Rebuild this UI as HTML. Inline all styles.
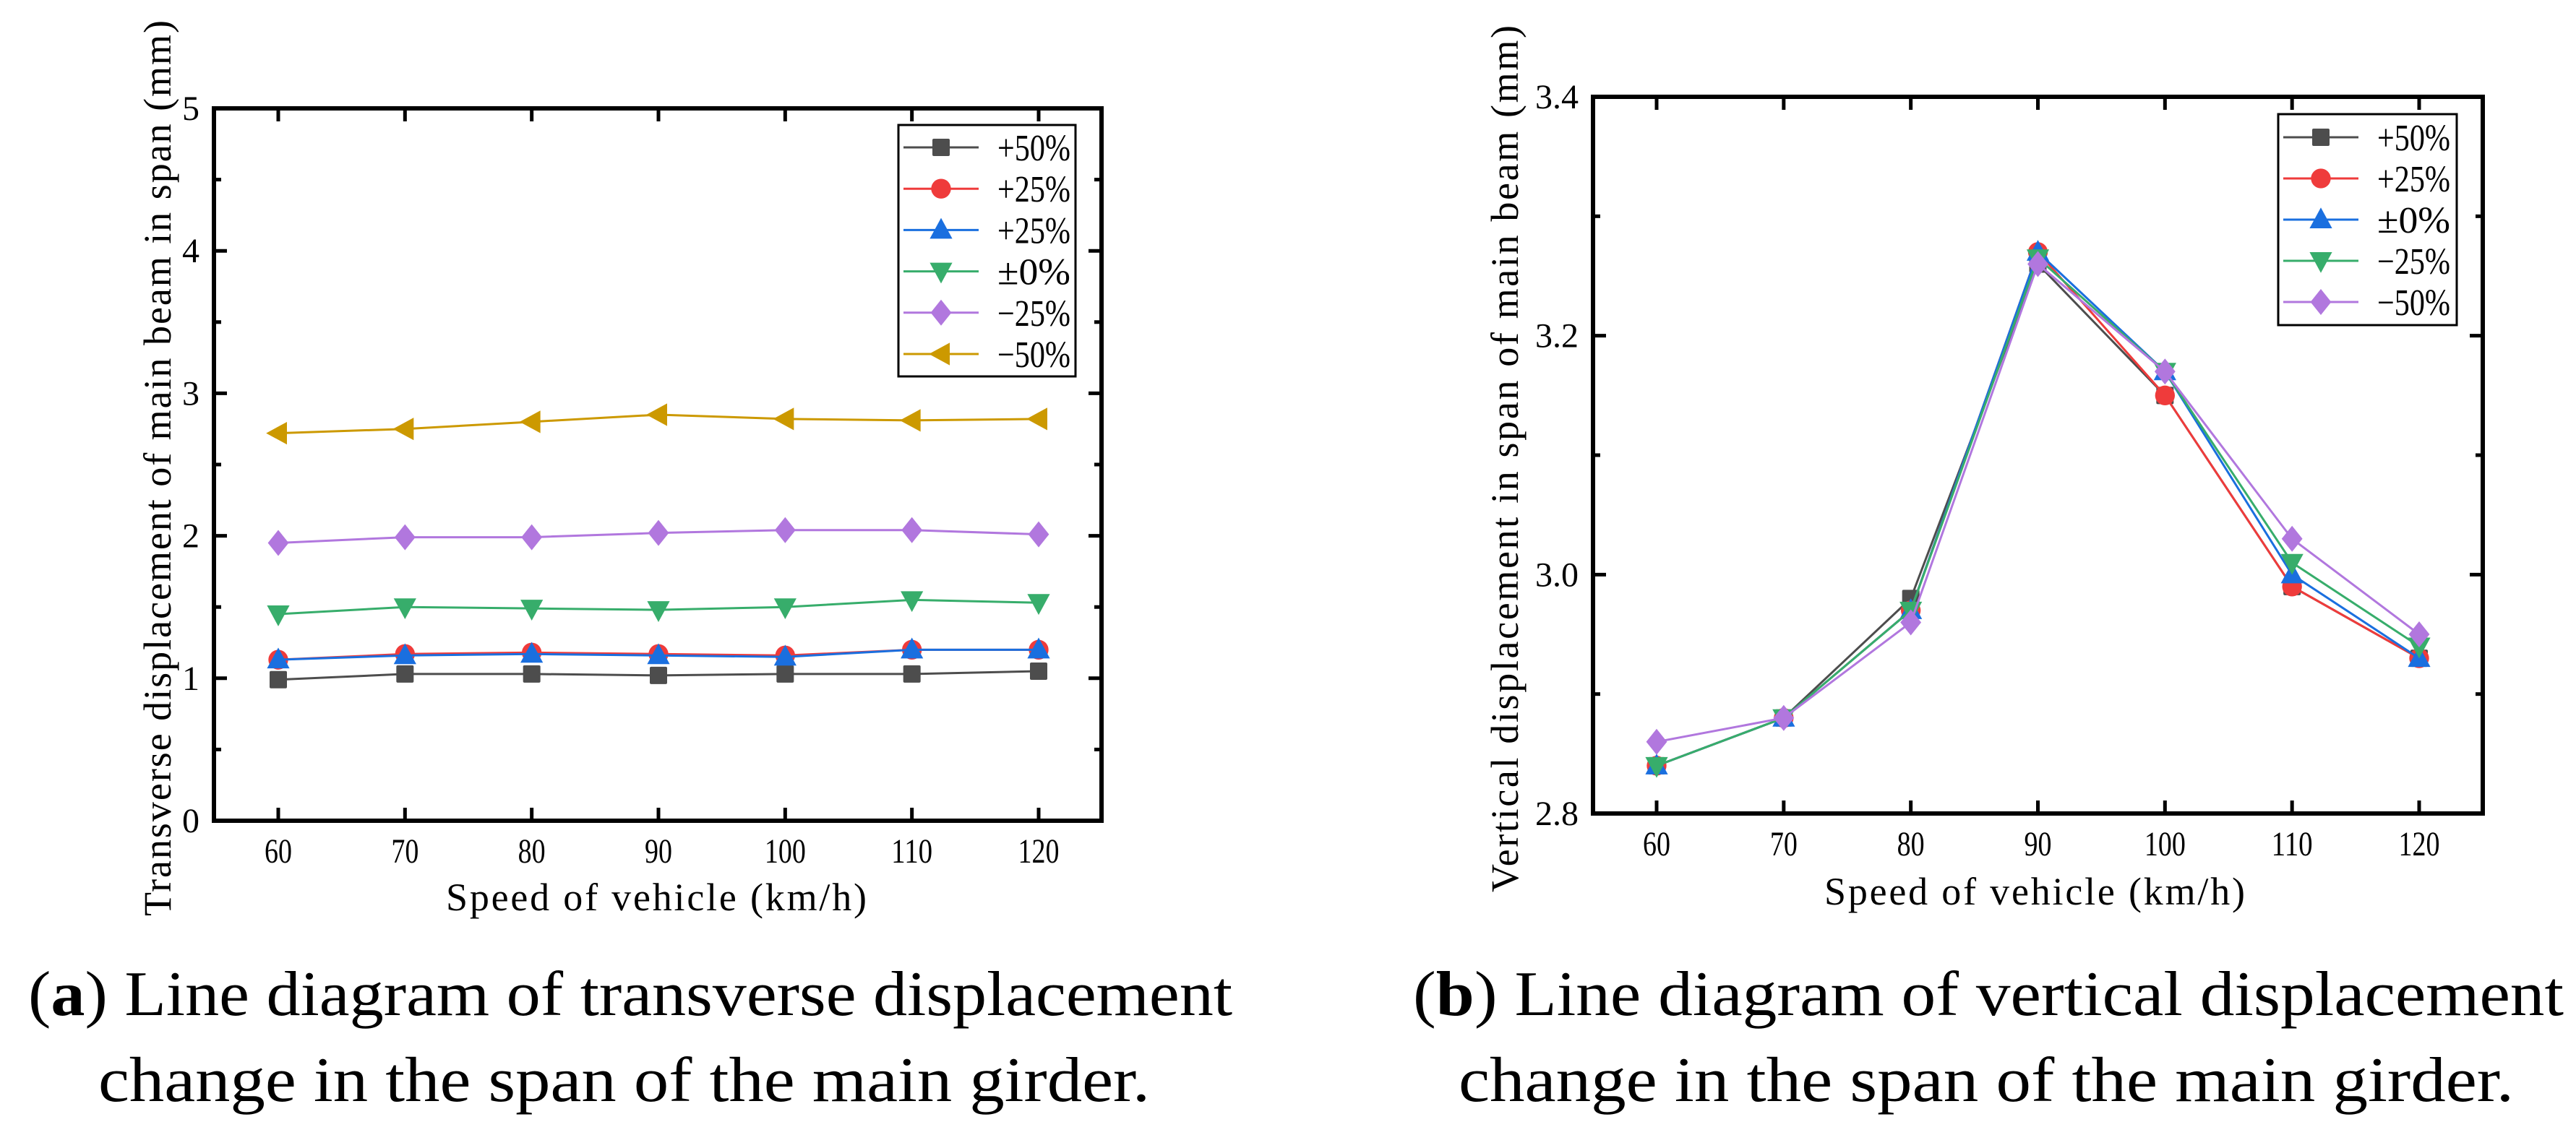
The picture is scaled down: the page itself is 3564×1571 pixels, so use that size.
<!DOCTYPE html>
<html><head><meta charset="utf-8"><style>
html,body{margin:0;padding:0;background:#fff;}
svg{display:block;}
text{font-family:"Liberation Serif",serif;fill:#000;}
</style></head><body>
<svg id="fig" width="3564" height="1571" viewBox="0 0 3564 1571" xmlns="http://www.w3.org/2000/svg">
<g id="chartA"></g>
<g id="chartB"></g>
<text x="39" y="1405" font-size="88" textLength="1666" lengthAdjust="spacingAndGlyphs">(<tspan font-weight="bold">a</tspan>) Line diagram of transverse displacement</text>
<text x="136" y="1524" font-size="88" textLength="1455" lengthAdjust="spacingAndGlyphs">change in the span of the main girder.</text>
<text x="1955" y="1405" font-size="88" textLength="1592" lengthAdjust="spacingAndGlyphs">(<tspan font-weight="bold">b</tspan>) Line diagram of vertical displacement</text>
<text x="2018" y="1524" font-size="88" textLength="1460" lengthAdjust="spacingAndGlyphs">change in the span of the main girder.</text>
</svg>
<script>
const speeds = [60, 70, 80, 90, 100, 110, 120];
// Chart A series
const aLabels = ["+50%", "+25%", "+25%", "±0%", "−25%", "−50%"];
const aP50 = [0.99, 1.03, 1.03, 1.02, 1.03, 1.03, 1.05];
const aP25r = [1.13, 1.17, 1.18, 1.17, 1.16, 1.20, 1.20];
const aP25b = [1.13, 1.16, 1.17, 1.16, 1.15, 1.20, 1.20];
const aZero = [1.45, 1.50, 1.49, 1.48, 1.50, 1.55, 1.53];
const aM25 = [1.95, 1.99, 1.99, 2.02, 2.04, 2.04, 2.01];
const aM50 = [2.72, 2.75, 2.80, 2.85, 2.82, 2.81, 2.82];
const aYTicks = [0, 1, 2, 3, 4, 5];
const aYMinor = [0.5, 1.5, 2.5, 3.5, 4.5];
// Chart B series
const bLabels = ["+50%", "+25%", "±0%", "−25%", "−50%"];
const bP50 = [2.84, 2.88, 2.98, 3.26, 3.15, 2.99, 2.93];
const bP25 = [2.84, 2.88, 2.97, 3.27, 3.15, 2.99, 2.93];
const bZero = [2.84, 2.88, 2.97, 3.27, 3.17, 3.00, 2.93];
const bM25 = [2.84, 2.88, 2.97, 3.265, 3.17, 3.01, 2.94];
const bM50 = [2.86, 2.88, 2.96, 3.26, 3.17, 3.03, 2.95];
const bYTicks = [2.8, 3.0, 3.2, 3.4];
const bYMinor = [2.9, 3.1, 3.3];

const NS = "http://www.w3.org/2000/svg";
function mk(parent, tag, attrs) {
  const e = document.createElementNS(NS, tag);
  for (const k in attrs) e.setAttribute(k, attrs[k]);
  parent.appendChild(e);
  return e;
}
function marker(g, type, cx, cy, color, s) {
  let e;
  if (type === "square") e = mk(g, "rect", {x: cx - s/2, y: cy - s/2, width: s, height: s, fill: color, rx: 2});
  else if (type === "circle") e = mk(g, "circle", {cx: cx, cy: cy, r: s*0.57, fill: color});
  else if (type === "up") e = mk(g, "polygon", {points: `${cx},${cy-s*0.7} ${cx-s*0.65},${cy+s*0.5} ${cx+s*0.65},${cy+s*0.5}`, fill: color});
  else if (type === "down") e = mk(g, "polygon", {points: `${cx},${cy+s*0.7} ${cx-s*0.65},${cy-s*0.5} ${cx+s*0.65},${cy-s*0.5}`, fill: color});
  else if (type === "diamond") e = mk(g, "polygon", {points: `${cx},${cy-s*0.75} ${cx+s*0.6},${cy} ${cx},${cy+s*0.75} ${cx-s*0.6},${cy}`, fill: color});
  else if (type === "left") e = mk(g, "polygon", {points: `${cx-s*0.7},${cy} ${cx+s*0.5},${cy-s*0.65} ${cx+s*0.5},${cy+s*0.65}`, fill: color});
  
  
  return e;
}

function drawChart(g, cfg) {
  const xs = v => cfg.x60 + (v - 60) / 60 * (cfg.x120 - cfg.x60);
  const ys = v => cfg.bot - (v - cfg.ymin) / (cfg.ymax - cfg.ymin) * (cfg.bot - cfg.top);
  cfg.series.forEach((s, si) => {
    const sg = mk(g, "g", {});
    
    
    const pts = s.data.map((v, i) => xs(speeds[i]) + "," + ys(v)).join(" ");
    const pl = mk(sg, "polyline", {points: pts, fill: "none", stroke: s.color, "stroke-width": 3});
    
    
    s.data.forEach((v, i) => marker(sg, s.type, xs(speeds[i]), ys(v), s.color, 24));
  });
  const fr = mk(g, "rect", {x: cfg.left, y: cfg.top, width: cfg.right - cfg.left, height: cfg.bot - cfg.top, fill: "none", stroke: "#000", "stroke-width": 6});
  
  
  speeds.forEach(v => {
    const x = xs(v);
    mk(g, "line", {x1: x, x2: x, y1: cfg.bot, y2: cfg.bot - 18, stroke: "#000", "stroke-width": 5});
    mk(g, "line", {x1: x, x2: x, y1: cfg.top, y2: cfg.top + 18, stroke: "#000", "stroke-width": 5});
    const s = String(v);
    const t = mk(g, "text", {x: x, y: cfg.bot + 58, "font-size": 48, "text-anchor": "middle", textLength: s.length * 19, lengthAdjust: "spacingAndGlyphs"});
    t.textContent = s;
    
    
  });
  cfg.yticks.forEach(v => {
    const y = ys(v);
    mk(g, "line", {x1: cfg.left, x2: cfg.left + 18, y1: y, y2: y, stroke: "#000", "stroke-width": 5});
    mk(g, "line", {x1: cfg.right, x2: cfg.right - 18, y1: y, y2: y, stroke: "#000", "stroke-width": 5});
    const s = cfg.fmt(v);
    const t = mk(g, "text", {x: cfg.left - 20, y: y + 16, "font-size": 48, "text-anchor": "end", textLength: s.length * 20, lengthAdjust: "spacing"});
    t.textContent = s;
    
    
  });
  cfg.yminor.forEach(v => {
    const y = ys(v);
    mk(g, "line", {x1: cfg.left, x2: cfg.left + 10, y1: y, y2: y, stroke: "#000", "stroke-width": 5});
    mk(g, "line", {x1: cfg.right, x2: cfg.right - 10, y1: y, y2: y, stroke: "#000", "stroke-width": 5});
  });
  const xt = mk(g, "text", {x: cfg.xtX, y: cfg.xtY, "font-size": 54, "text-anchor": "middle", textLength: 582, lengthAdjust: "spacing"});
  xt.textContent = "Speed of vehicle (km/h)";
  
  
  const yt = mk(g, "text", {x: 0, y: 0, "font-size": 54, "text-anchor": "middle", textLength: cfg.ytLen, lengthAdjust: "spacing", transform: `translate(${cfg.ytX},${cfg.ytY}) rotate(-90)`});
  yt.textContent = cfg.ytitle;
  
  
  const lg = mk(g, "g", {});
  
  
  mk(lg, "rect", {x: cfg.lg.x, y: cfg.lg.y, width: cfg.lg.w, height: cfg.lg.h, fill: "#fff", stroke: "#000", "stroke-width": 3});
  cfg.series.forEach((s, i) => {
    const y = cfg.lg.y0 + i * cfg.lg.dy;
    const e = mk(lg, "g", {});
    
    
    mk(e, "line", {x1: cfg.lg.x + 7, x2: cfg.lg.x + 111, y1: y, y2: y, stroke: s.color, "stroke-width": 3});
    marker(e, s.type, cfg.lg.x + 59, y, s.color, 24);
    const t = mk(e, "text", {x: cfg.lg.x + 137, y: y + 18, "font-size": 52, textLength: 101, lengthAdjust: "spacingAndGlyphs"});
    t.textContent = s.label;
  });
}

drawChart(document.getElementById("chartA"), {
  left: 296, right: 1524, top: 150, bot: 1136, x60: 385, x120: 1437,
  ymin: 0, ymax: 5, yticks: aYTicks, yminor: aYMinor, fmt: v => String(v),
  xtX: 908, xtY: 1260, ytX: 236, ytY: 648, ytLen: 1240,
  ytitle: "Transverse displacement of main beam in span (mm)",
  lg: {x: 1243, y: 173, w: 245, h: 348, y0: 204, dy: 57.2},
  series: [
    {label: aLabels[0], data: aP50, color: "#4d4d4d", type: "square"},
    {label: aLabels[1], data: aP25r, color: "#ef3b3b", type: "circle"},
    {label: aLabels[2], data: aP25b, color: "#1a6fdf", type: "up"},
    {label: aLabels[3], data: aZero, color: "#37ad6b", type: "down"},
    {label: aLabels[4], data: aM25, color: "#b177de", type: "diamond"},
    {label: aLabels[5], data: aM50, color: "#cc9900", type: "left"}
  ]
});
drawChart(document.getElementById("chartB"), {
  left: 2204, right: 3435, top: 134, bot: 1126, x60: 2292, x120: 3347,
  ymin: 2.8, ymax: 3.4, yticks: bYTicks, yminor: bYMinor, fmt: v => v.toFixed(1),
  xtX: 2815, xtY: 1252, ytX: 2100, ytY: 635, ytLen: 1200,
  ytitle: "Vertical displacement in span of main beam (mm)",
  lg: {x: 3152, y: 158, w: 247, h: 292, y0: 190, dy: 57},
  series: [
    {label: bLabels[0], data: bP50, color: "#4d4d4d", type: "square"},
    {label: bLabels[1], data: bP25, color: "#ef3b3b", type: "circle"},
    {label: bLabels[2], data: bZero, color: "#1a6fdf", type: "up"},
    {label: bLabels[3], data: bM25, color: "#37ad6b", type: "down"},
    {label: bLabels[4], data: bM50, color: "#b177de", type: "diamond"}
  ]
});
</script>
</body></html>
